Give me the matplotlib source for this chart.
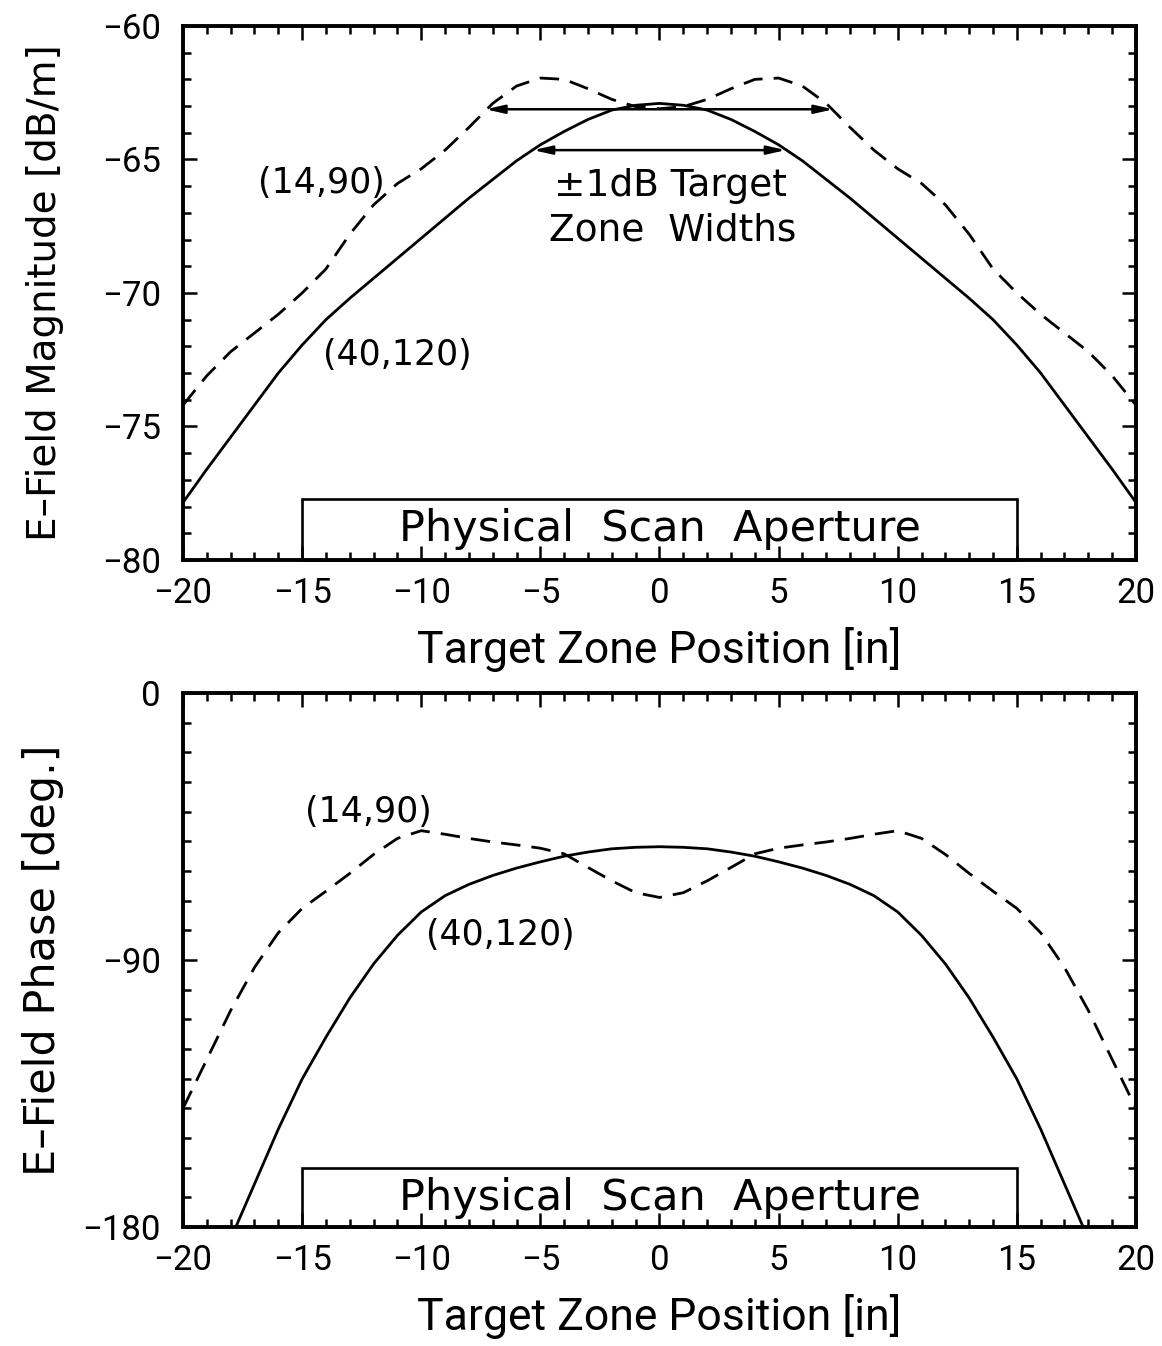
import matplotlib
matplotlib.use("Agg")
import matplotlib.pyplot as plt
from matplotlib.patches import Rectangle
import numpy as np

plt.rcParams['lines.scale_dashes'] = False

# ---------------- data ----------------
pos = [-20, -19, -18, -17, -16, -15, -14, -13, -12, -11, -10, -9, -8, -7, -6, -5, -4, -3, -2, -1,
       0, 1, 2, 3, 4, 5, 6, 7, 8, 9, 10, 11, 12, 13, 14, 15, 16, 17, 18, 19, 20]

# magnitude [dB/m]
mag_40_120 = [-77.85, -76.6, -75.4, -74.2, -73.0, -71.95, -71.0, -70.2, -69.45, -68.7, -67.95,
              -67.2, -66.45, -65.75, -65.05, -64.45, -63.95, -63.5, -63.15, -62.97,
              -62.9,
              -62.97, -63.15, -63.5, -63.95, -64.45, -65.05, -65.75, -66.45, -67.2, -67.95,
              -68.7, -69.45, -70.2, -71.0, -71.95, -73.0, -74.2, -75.4, -76.6, -77.85]
mag_14_90 = [-74.2, -73.1, -72.2, -71.5, -70.8, -70.0, -69.1, -67.8, -66.7, -65.9, -65.35,
             -64.65, -63.8, -62.9, -62.25, -61.95, -62.0, -62.35, -62.75, -63.02,
             -63.1,
             -63.02, -62.75, -62.35, -62.0, -61.95, -62.25, -62.9, -63.8, -64.65, -65.35,
             -65.9, -66.7, -67.8, -69.1, -70.0, -70.8, -71.5, -72.2, -73.1, -74.2]

# phase [deg.]
pos_ph_40_120 = [-18, -17, -16, -15, -14, -13, -12, -11, -10, -9, -8, -7, -6, -5, -4, -3, -2, -1,
                 0, 1, 2, 3, 4, 5, 6, 7, 8, 9, 10, 11, 12, 13, 14, 15, 16, 17, 18]
ph_40_120 = [-184.0, -165.5, -147.0, -130.1, -116.0, -102.8, -91.3, -81.7, -73.8, -68.3, -64.5,
             -61.5, -59.0, -56.9, -55.0, -53.6, -52.5, -52.0,
             -51.8,
             -52.0, -52.5, -53.6, -55.0, -56.9, -59.0, -61.5, -64.5, -68.3, -73.8, -81.7,
             -91.3, -102.8, -116.0, -130.1, -147.0, -165.5, -184.0]
ph_14_90 = [-140.0, -123.5, -107.0, -92.5, -80.8, -72.6, -66.8, -60.8, -54.4, -49.0, -46.4,
            -47.6, -49.0, -50.2, -51.2, -52.3, -54.2, -58.8, -63.3, -67.3,
            -68.9,
            -67.3, -63.3, -58.8, -54.2, -52.3, -51.2, -50.2, -49.0, -47.6, -46.4,
            -49.0, -54.4, -60.8, -66.8, -72.6, -80.8, -92.5, -107.0, -123.5, -140.0]

x_ticks = [-20, -15, -10, -5, 0, 5, 10, 15, 20]
mag_ticks = [-80, -75, -70, -65, -60]
ph_ticks = [-180, -90, 0]
aperture = [-15, 15]
zone_40_120 = [-5.3, 5.3, -64.65]
zone_14_90 = [-7.3, 7.3, -63.12]

# ---------------- style ----------------
NARROW = ['Roboto', 'DejaVu Sans']
WIDE = ['DejaVu Sans']
LW = 2.0
SPW = 2.8


def fmt(t):
    return str(t).replace('-', '\u2212')


fig = plt.figure(figsize=(11.62, 13.46), dpi=100)
ax1 = fig.add_axes([0.1575, 0.5840, 0.8201, 0.3967])
ax2 = fig.add_axes([0.1575, 0.0884, 0.8201, 0.3967])


def style_axes(ax, yticks, ylim, yminor):
    ax.set_xlim(-20, 20)
    ax.set_ylim(*ylim)
    ax.set_xticks(x_ticks)
    ax.set_xticklabels([fmt(t) for t in x_ticks], family=NARROW, fontsize=25)
    ax.set_yticks(yticks)
    ax.set_yticklabels([fmt(t) for t in yticks], family=NARROW, fontsize=25)
    ax.set_xticks(np.arange(-20, 21, 1), minor=True)
    ax.set_yticks(yminor, minor=True)
    ax.tick_params(which='both', direction='in', top=True, right=True, width=1.8)
    ax.tick_params(which='major', length=10)
    ax.tick_params(which='minor', length=6)
    ax.tick_params(axis='x', which='major', pad=12)
    ax.tick_params(axis='y', which='major', pad=16)
    for s in ax.spines.values():
        s.set_linewidth(SPW)


# ----- top panel -----
ax1.plot(pos, mag_40_120, color='black', lw=LW)
ax1.plot(pos, mag_14_90, color='black', lw=LW, dashes=(14, 8))
style_axes(ax1, mag_ticks, (-80, -60), np.arange(-80, -59, 1))
ax1.add_patch(Rectangle((aperture[0], -80), aperture[1] - aperture[0], 2.28,
                        fill=False, lw=1.9, ec='black', zorder=3, clip_on=False))
ax1.text(0, -78.85, 'Physical  Scan  Aperture', ha='center', va='center',
         family=WIDE, fontsize=31)
for z in (zone_40_120, zone_14_90):
    ax1.annotate('', xy=(z[0], z[2]), xytext=(z[1], z[2]),
                 arrowprops=dict(arrowstyle='<|-|>,head_length=1.1,head_width=0.25',
                                 color='black', lw=1.8, shrinkA=0, shrinkB=0))
ax1.text(0.45, -66.0, '\u00b11dB Target', ha='center', va='center', family=WIDE, fontsize=27)
ax1.text(0.55, -67.65, 'Zone  Widths', ha='center', va='center', family=WIDE, fontsize=27)
ax1.text(-14.2, -65.89, '(14,90)', ha='center', va='center', family=WIDE, fontsize=25)
ax1.text(-11.0, -72.33, '(40,120)', ha='center', va='center', family=WIDE, fontsize=25)
ax1.set_xlabel('Target Zone Position [in]', family=NARROW, fontsize=32)
ax1.set_ylabel('E\u2013Field Magnitude [dB/m]', family=WIDE, fontsize=28)
ax1.xaxis.set_label_coords(0.5, -0.125)
ax1.yaxis.set_label_coords(-0.125, 0.5)

# ----- bottom panel -----
ax2.plot(pos_ph_40_120, ph_40_120, color='black', lw=LW)
ax2.plot(pos, ph_14_90, color='black', lw=LW, dashes=(14, 8))
style_axes(ax2, ph_ticks, (-180, 0), np.arange(-180, 1, 10))
ax2.add_patch(Rectangle((aperture[0], -180), aperture[1] - aperture[0], 20,
                        fill=False, lw=1.9, ec='black', zorder=3, clip_on=False))
ax2.text(0, -170.3, 'Physical  Scan  Aperture', ha='center', va='center',
         family=WIDE, fontsize=31)
ax2.text(-12.2, -40.0, '(14,90)', ha='center', va='center', family=WIDE, fontsize=25)
ax2.text(-6.7, -81.6, '(40,120)', ha='center', va='center', family=WIDE, fontsize=25)
ax2.set_xlabel('Target Zone Position [in]', family=NARROW, fontsize=32)
ax2.set_ylabel('E\u2013Field Phase [deg.]', family=WIDE, fontsize=31)
ax2.xaxis.set_label_coords(0.5, -0.125)
ax2.yaxis.set_label_coords(-0.125, 0.5)

fig.savefig('out.png', dpi=100, facecolor='white')
